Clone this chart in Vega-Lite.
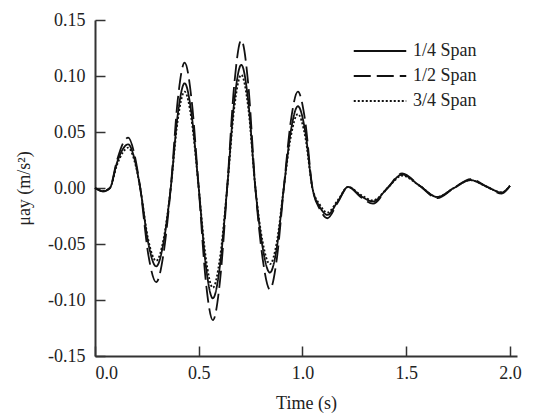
{
  "$schema": "https://vega.github.io/schema/vega-lite/v6.json",
  "width": 422,
  "height": 336,
  "autosize": {"type": "none"},
  "padding": {"left": 95, "top": 20, "right": 18, "bottom": 61},
  "background": "white",
  "data": {
    "values": [
      {"s": "1/4 Span", "t": 0, "v": 0},
      {"s": "1/4 Span", "t": 0.04, "v": -0.003},
      {"s": "1/4 Span", "t": 0.072, "v": 0},
      {"s": "1/4 Span", "t": 0.105, "v": 0.022},
      {"s": "1/4 Span", "t": 0.135, "v": 0.035},
      {"s": "1/4 Span", "t": 0.16, "v": 0.039},
      {"s": "1/4 Span", "t": 0.189, "v": 0.027},
      {"s": "1/4 Span", "t": 0.218, "v": 0},
      {"s": "1/4 Span", "t": 0.2565, "v": -0.049},
      {"s": "1/4 Span", "t": 0.295, "v": -0.07},
      {"s": "1/4 Span", "t": 0.33, "v": -0.049},
      {"s": "1/4 Span", "t": 0.365, "v": 0},
      {"s": "1/4 Span", "t": 0.3985, "v": 0.065},
      {"s": "1/4 Span", "t": 0.432, "v": 0.0935},
      {"s": "1/4 Span", "t": 0.466, "v": 0.065},
      {"s": "1/4 Span", "t": 0.5, "v": 0},
      {"s": "1/4 Span", "t": 0.534, "v": -0.069},
      {"s": "1/4 Span", "t": 0.568, "v": -0.0985},
      {"s": "1/4 Span", "t": 0.6025, "v": -0.069},
      {"s": "1/4 Span", "t": 0.637, "v": 0},
      {"s": "1/4 Span", "t": 0.671, "v": 0.077},
      {"s": "1/4 Span", "t": 0.705, "v": 0.11},
      {"s": "1/4 Span", "t": 0.739, "v": 0.077},
      {"s": "1/4 Span", "t": 0.773, "v": 0},
      {"s": "1/4 Span", "t": 0.808, "v": -0.053},
      {"s": "1/4 Span", "t": 0.843, "v": -0.0756},
      {"s": "1/4 Span", "t": 0.8765, "v": -0.053},
      {"s": "1/4 Span", "t": 0.91, "v": 0},
      {"s": "1/4 Span", "t": 0.944, "v": 0.051},
      {"s": "1/4 Span", "t": 0.978, "v": 0.073},
      {"s": "1/4 Span", "t": 1.013, "v": 0.051},
      {"s": "1/4 Span", "t": 1.048, "v": 0},
      {"s": "1/4 Span", "t": 1.084, "v": -0.017},
      {"s": "1/4 Span", "t": 1.12, "v": -0.024},
      {"s": "1/4 Span", "t": 1.17, "v": -0.012},
      {"s": "1/4 Span", "t": 1.22, "v": 0.001},
      {"s": "1/4 Span", "t": 1.28, "v": -0.007},
      {"s": "1/4 Span", "t": 1.34, "v": -0.012},
      {"s": "1/4 Span", "t": 1.41, "v": 0},
      {"s": "1/4 Span", "t": 1.48, "v": 0.012},
      {"s": "1/4 Span", "t": 1.565, "v": 0.002},
      {"s": "1/4 Span", "t": 1.65, "v": -0.008},
      {"s": "1/4 Span", "t": 1.73, "v": 0},
      {"s": "1/4 Span", "t": 1.81, "v": 0.007},
      {"s": "1/4 Span", "t": 1.885, "v": 0.0015},
      {"s": "1/4 Span", "t": 1.96, "v": -0.004},
      {"s": "1/4 Span", "t": 2.0, "v": 0.002},
      {"s": "1/2 Span", "t": 0, "v": 0},
      {"s": "1/2 Span", "t": 0.04, "v": -0.003},
      {"s": "1/2 Span", "t": 0.072, "v": 0},
      {"s": "1/2 Span", "t": 0.105, "v": 0.024},
      {"s": "1/2 Span", "t": 0.135, "v": 0.04},
      {"s": "1/2 Span", "t": 0.16, "v": 0.045},
      {"s": "1/2 Span", "t": 0.189, "v": 0.031},
      {"s": "1/2 Span", "t": 0.218, "v": 0},
      {"s": "1/2 Span", "t": 0.2565, "v": -0.059},
      {"s": "1/2 Span", "t": 0.295, "v": -0.084},
      {"s": "1/2 Span", "t": 0.33, "v": -0.059},
      {"s": "1/2 Span", "t": 0.365, "v": 0},
      {"s": "1/2 Span", "t": 0.3985, "v": 0.078},
      {"s": "1/2 Span", "t": 0.432, "v": 0.112},
      {"s": "1/2 Span", "t": 0.466, "v": 0.078},
      {"s": "1/2 Span", "t": 0.5, "v": 0},
      {"s": "1/2 Span", "t": 0.534, "v": -0.083},
      {"s": "1/2 Span", "t": 0.568, "v": -0.118},
      {"s": "1/2 Span", "t": 0.6025, "v": -0.083},
      {"s": "1/2 Span", "t": 0.637, "v": 0},
      {"s": "1/2 Span", "t": 0.671, "v": 0.092},
      {"s": "1/2 Span", "t": 0.705, "v": 0.132},
      {"s": "1/2 Span", "t": 0.739, "v": 0.092},
      {"s": "1/2 Span", "t": 0.773, "v": 0},
      {"s": "1/2 Span", "t": 0.808, "v": -0.063},
      {"s": "1/2 Span", "t": 0.843, "v": -0.0905},
      {"s": "1/2 Span", "t": 0.8765, "v": -0.063},
      {"s": "1/2 Span", "t": 0.91, "v": 0},
      {"s": "1/2 Span", "t": 0.944, "v": 0.06},
      {"s": "1/2 Span", "t": 0.978, "v": 0.086},
      {"s": "1/2 Span", "t": 1.013, "v": 0.06},
      {"s": "1/2 Span", "t": 1.048, "v": 0},
      {"s": "1/2 Span", "t": 1.084, "v": -0.019},
      {"s": "1/2 Span", "t": 1.12, "v": -0.027},
      {"s": "1/2 Span", "t": 1.17, "v": -0.013},
      {"s": "1/2 Span", "t": 1.22, "v": 0.001},
      {"s": "1/2 Span", "t": 1.28, "v": -0.008},
      {"s": "1/2 Span", "t": 1.34, "v": -0.014},
      {"s": "1/2 Span", "t": 1.41, "v": 0},
      {"s": "1/2 Span", "t": 1.48, "v": 0.013},
      {"s": "1/2 Span", "t": 1.565, "v": 0.002},
      {"s": "1/2 Span", "t": 1.65, "v": -0.009},
      {"s": "1/2 Span", "t": 1.73, "v": 0},
      {"s": "1/2 Span", "t": 1.81, "v": 0.008},
      {"s": "1/2 Span", "t": 1.885, "v": 0.0015},
      {"s": "1/2 Span", "t": 1.96, "v": -0.005},
      {"s": "1/2 Span", "t": 2.0, "v": 0.002},
      {"s": "3/4 Span", "t": 0, "v": 0},
      {"s": "3/4 Span", "t": 0.04, "v": -0.0025},
      {"s": "3/4 Span", "t": 0.072, "v": 0},
      {"s": "3/4 Span", "t": 0.105, "v": 0.02},
      {"s": "3/4 Span", "t": 0.135, "v": 0.032},
      {"s": "3/4 Span", "t": 0.16, "v": 0.036},
      {"s": "3/4 Span", "t": 0.189, "v": 0.025},
      {"s": "3/4 Span", "t": 0.218, "v": 0},
      {"s": "3/4 Span", "t": 0.2565, "v": -0.046},
      {"s": "3/4 Span", "t": 0.295, "v": -0.065},
      {"s": "3/4 Span", "t": 0.33, "v": -0.046},
      {"s": "3/4 Span", "t": 0.365, "v": 0},
      {"s": "3/4 Span", "t": 0.3985, "v": 0.06},
      {"s": "3/4 Span", "t": 0.432, "v": 0.086},
      {"s": "3/4 Span", "t": 0.466, "v": 0.06},
      {"s": "3/4 Span", "t": 0.5, "v": 0},
      {"s": "3/4 Span", "t": 0.534, "v": -0.062},
      {"s": "3/4 Span", "t": 0.568, "v": -0.089},
      {"s": "3/4 Span", "t": 0.6025, "v": -0.062},
      {"s": "3/4 Span", "t": 0.637, "v": 0},
      {"s": "3/4 Span", "t": 0.671, "v": 0.071},
      {"s": "3/4 Span", "t": 0.705, "v": 0.101},
      {"s": "3/4 Span", "t": 0.739, "v": 0.071},
      {"s": "3/4 Span", "t": 0.773, "v": 0},
      {"s": "3/4 Span", "t": 0.808, "v": -0.048},
      {"s": "3/4 Span", "t": 0.843, "v": -0.068},
      {"s": "3/4 Span", "t": 0.8765, "v": -0.048},
      {"s": "3/4 Span", "t": 0.91, "v": 0},
      {"s": "3/4 Span", "t": 0.944, "v": 0.046},
      {"s": "3/4 Span", "t": 0.978, "v": 0.066},
      {"s": "3/4 Span", "t": 1.013, "v": 0.046},
      {"s": "3/4 Span", "t": 1.048, "v": 0},
      {"s": "3/4 Span", "t": 1.084, "v": -0.015},
      {"s": "3/4 Span", "t": 1.12, "v": -0.022},
      {"s": "3/4 Span", "t": 1.17, "v": -0.011},
      {"s": "3/4 Span", "t": 1.22, "v": 0.001},
      {"s": "3/4 Span", "t": 1.28, "v": -0.006},
      {"s": "3/4 Span", "t": 1.34, "v": -0.011},
      {"s": "3/4 Span", "t": 1.41, "v": 0},
      {"s": "3/4 Span", "t": 1.48, "v": 0.011},
      {"s": "3/4 Span", "t": 1.565, "v": 0.002},
      {"s": "3/4 Span", "t": 1.65, "v": -0.008},
      {"s": "3/4 Span", "t": 1.73, "v": 0},
      {"s": "3/4 Span", "t": 1.81, "v": 0.007},
      {"s": "3/4 Span", "t": 1.885, "v": 0.0015},
      {"s": "3/4 Span", "t": 1.96, "v": -0.004},
      {"s": "3/4 Span", "t": 2.0, "v": 0.002}
    ]
  },
  "mark": {"type": "line", "interpolate": "monotone", "strokeWidth": 1.8},
  "encoding": {
    "x": {
      "field": "t",
      "type": "quantitative",
      "scale": {"domain": [0, 2.034], "nice": false, "zero": false},
      "axis": {"title": "Time (s)", "values": [0, 0.5, 1, 1.5, 2], "format": ".1f"}
    },
    "y": {
      "field": "v",
      "type": "quantitative",
      "scale": {"domain": [-0.15, 0.15], "nice": false},
      "axis": {
        "title": "μay (m/s²)",
        "values": [-0.15, -0.1, -0.05, 0, 0.05, 0.1, 0.15],
        "labelExpr": "replace(format(datum.value, '.2f'), '−', '-')"
      }
    },
    "color": {
      "field": "s",
      "type": "nominal",
      "scale": {"domain": ["1/4 Span", "1/2 Span", "3/4 Span"], "range": ["#111111", "#111111", "#111111"]},
      "legend": {"title": null}
    },
    "strokeDash": {
      "field": "s",
      "type": "nominal",
      "scale": {"domain": ["1/4 Span", "1/2 Span", "3/4 Span"], "range": [[1, 0], [17, 6], [2, 2]]},
      "legend": {"title": null}
    }
  },
  "config": {
    "view": {"stroke": null},
    "axis": {
      "grid": false,
      "domainColor": "#333333",
      "domainWidth": 2,
      "tickColor": "#333333",
      "tickWidth": 1.5,
      "tickSize": -10,
      "labelFont": "Liberation Serif",
      "labelFontSize": 18,
      "labelColor": "#222222",
      "titleFont": "Liberation Serif",
      "titleFontSize": 18,
      "titleFontWeight": "normal",
      "titleColor": "#222222"
    },
    "axisX": {"labelPadding": 18, "titlePadding": 12},
    "axisY": {"labelPadding": 20, "titlePadding": 14},
    "legend": {
      "orient": "none",
      "legendX": 276,
      "legendY": 22,
      "symbolType": "M-3.5,0H3.5",
      "symbolSize": 225,
      "symbolStrokeWidth": 1.8,
      "labelFont": "Liberation Serif",
      "labelFontSize": 18,
      "labelColor": "#222222",
      "labelOffset": 24,
      "rowPadding": 7
    }
  }
}
